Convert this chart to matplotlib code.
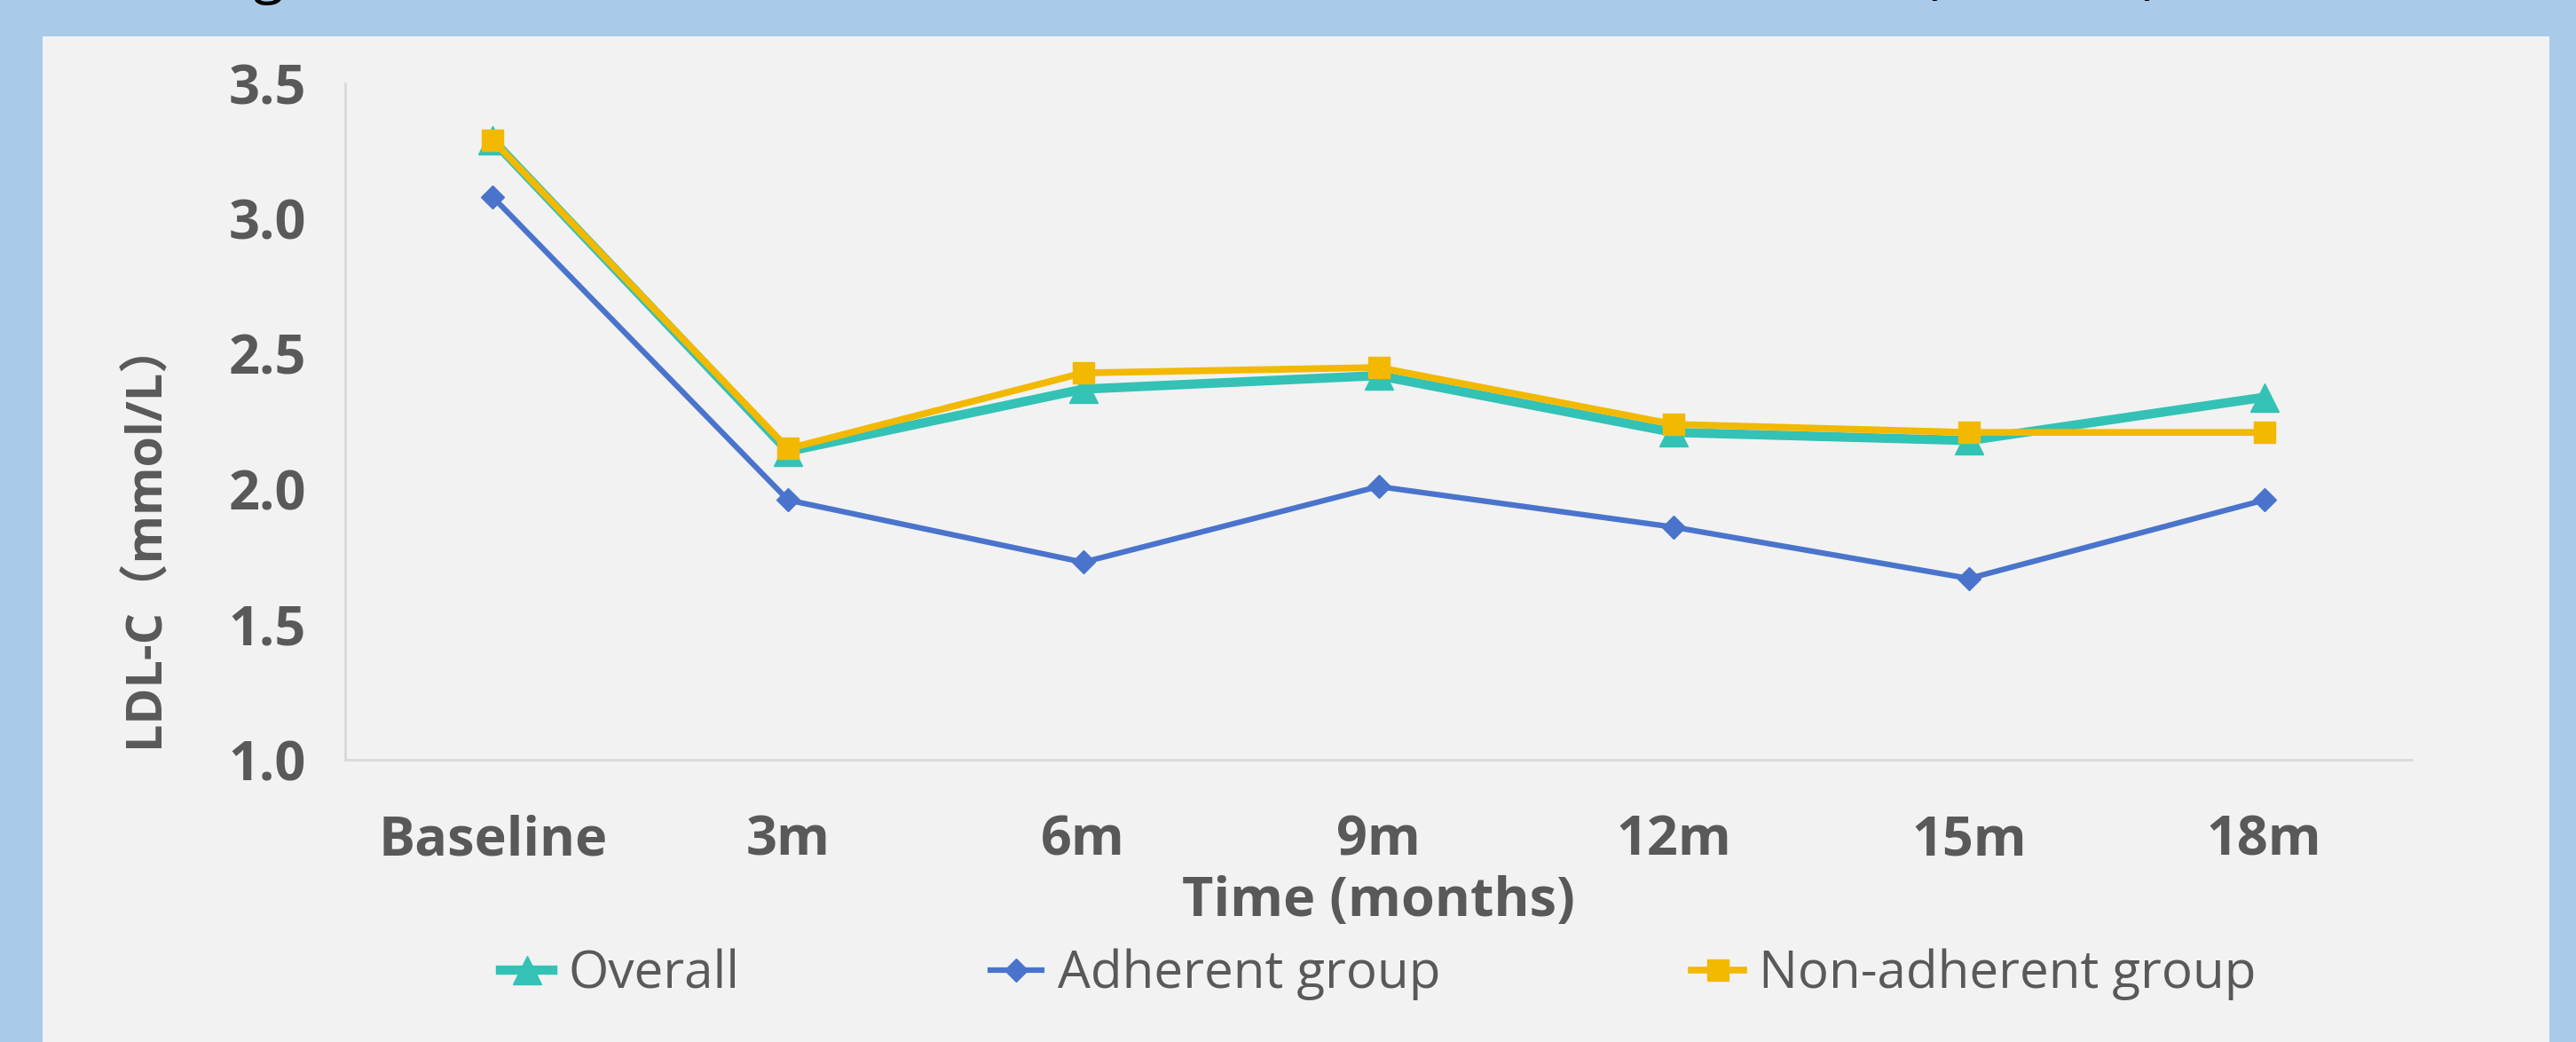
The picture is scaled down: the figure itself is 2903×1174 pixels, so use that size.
import matplotlib.pyplot as plt
from matplotlib.patches import Rectangle

# ------------ datos ------------
categorias = ["Baseline", "3m", "6m", "9m", "12m", "15m", "18m"]
overall = [3.29, 2.14, 2.37, 2.42, 2.21, 2.18, 2.34]
adherente = [3.08, 1.96, 1.73, 2.01, 1.86, 1.67, 1.96]
no_adherente = [3.29, 2.15, 2.43, 2.45, 2.24, 2.21, 2.21]
y_ticks = [1.0, 1.5, 2.0, 2.5, 3.0, 3.5]

GRIS = "#595959"
plt.rcParams['font.family'] = ['Open Sans', 'Noto Sans CJK SC', 'DejaVu Sans']

fig = plt.figure(figsize=(29.03, 11.74), dpi=100)
fig.patch.set_facecolor("#a9cae9")
fig.patches.append(Rectangle((48 / 2903, 0), (2873 - 48) / 2903, (1174 - 41) / 1174,
                             transform=fig.transFigure, facecolor="#f2f2f2",
                             edgecolor="none", zorder=-5))

# titulo cortado arriba (solo se ven los trazos bajos)
fig.text(0.045, 1.008, "Changes in LDL-C levels at baseline, 6m, 12m, and from 15m to 18m (mmol/L)",
         fontsize=46, color="black", va="baseline", ha="left")

ax = fig.add_axes([389 / 2903, 1 - 856 / 1174, (2718 - 389) / 2903, (856 - 94) / 1174])
ax.set_facecolor("none")

x = list(range(len(categorias)))
ax.plot(x, overall, color="#33c2b5", lw=7.5, marker="^", ms=23, label="Overall", zorder=3)
ax.plot(x, adherente, color="#4a74cc", lw=4.5, marker="D", ms=13, label="Adherent group", zorder=4)
ax.plot(x, no_adherente, color="#f2b900", lw=5.5, marker="s", ms=17, label="Non-adherent group", zorder=5)

ax.set_xlim(-0.5, 6.5)
ax.set_ylim(1.0, 3.5)
ax.set_yticks(y_ticks)
ax.set_yticklabels(["%.1f" % v for v in y_ticks])
ax.set_xticks(x)
ax.set_xticklabels(categorias)
ax.tick_params(length=0, labelsize=44, colors=GRIS)
ax.tick_params(axis="y", pad=32)
ax.tick_params(axis="x", pad=44)
for t in ax.get_xticklabels() + ax.get_yticklabels():
    t.set_fontweight("bold")

for lado in ["top", "right"]:
    ax.spines[lado].set_visible(False)
for lado in ["left", "bottom"]:
    ax.spines[lado].set_color("#d9d9d9")
    ax.spines[lado].set_linewidth(2)

ax.set_xlabel("Time (months)", fontsize=44, fontweight="bold", color=GRIS, labelpad=6)
ax.set_ylabel("LDL-C（mmol/L）", fontsize=40, fontweight="bold", color=GRIS)
ax.yaxis.set_label_coords(-0.085, 0.335)

leg = fig.legend(loc="center", bbox_to_anchor=((389 + 2718) / 2 / 2903, 1 - 1098 / 1174), ncol=3,
                 frameon=False, fontsize=42, handlelength=1.0, columnspacing=4.85, handletextpad=0.3)
for t in leg.get_texts():
    t.set_color(GRIS)

fig.savefig("out.png", dpi=100, facecolor=fig.get_facecolor())
